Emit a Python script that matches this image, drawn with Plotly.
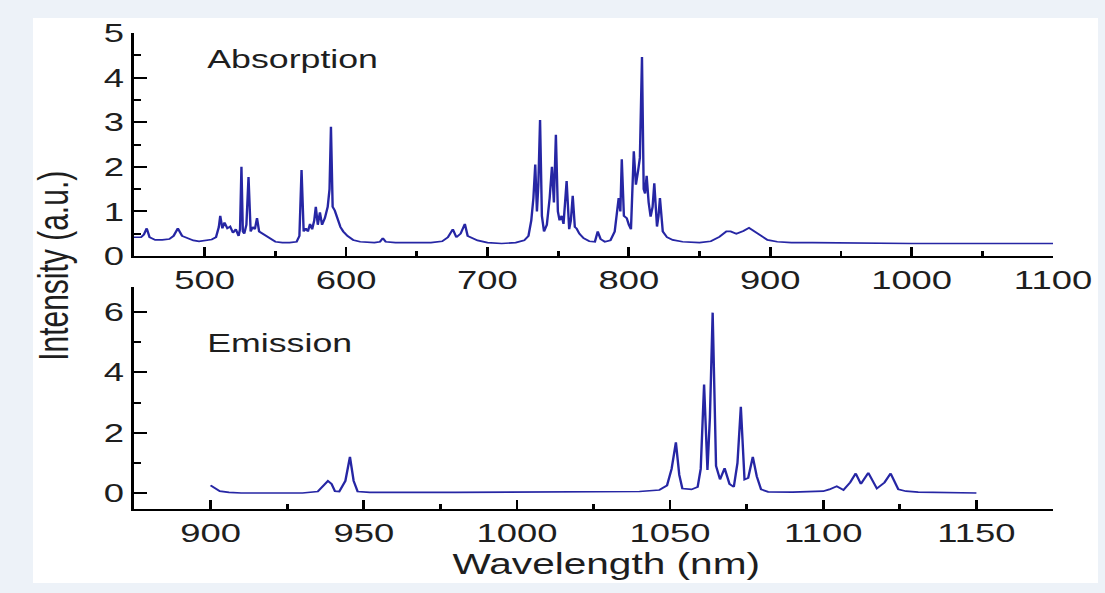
import plotly.graph_objects as go

# Absorption spectrum (top panel)
abs_wavelength = [
    450, 455, 457, 459, 461, 465, 470, 475, 478, 481, 484, 488, 492, 496,
    500, 505, 508, 510, 511, 512.5, 514, 516, 518, 520, 522, 524, 525, 526,
    527, 528, 529.5, 531, 532.5, 534, 535.5, 537, 538.5, 541, 545, 550, 555,
    560, 565, 567, 568.5, 570, 571.5, 573, 574.5, 576, 577.5, 578.6, 580,
    581.5, 583, 585, 587, 588.3, 589.3, 590.5, 592, 594, 596, 598, 601, 605,
    610, 620, 624, 626, 628, 635, 645, 660, 668, 672, 675.5, 678, 681, 684,
    686, 689, 693, 700, 710, 720, 726, 729, 731, 732.5, 733.8, 735, 736,
    737.2, 738.5, 740, 742, 744, 745.6, 747, 748.4, 749.8, 751, 752.5, 753.8,
    756, 757.8, 759, 760.3, 761.8, 763, 765, 768, 772, 776, 778, 780, 783,
    787, 790, 791.5, 792.8, 794, 795, 796.5, 798.5, 800, 801.5, 803.5, 805,
    806.5, 807.8, 809.3, 810.5, 811.5, 812.6, 814, 815.4, 816.8, 818, 819.9,
    821, 822, 824, 827, 831, 838, 850, 858, 864, 869, 872, 876, 881, 885,
    889, 893, 898, 905, 915, 930, 960, 1000, 1050, 1100,
]
abs_intensity = [
    0.42, 0.42, 0.48, 0.62, 0.42, 0.36, 0.36, 0.38, 0.45, 0.62, 0.45, 0.40, 0.35, 0.33,
    0.35, 0.37, 0.42, 0.65, 0.90, 0.62, 0.75, 0.62, 0.66, 0.52, 0.60, 0.45, 0.60, 2.00,
    0.55, 0.50, 0.70, 1.77, 0.55, 0.65, 0.60, 0.85, 0.55, 0.50, 0.40, 0.32, 0.30,
    0.30, 0.32, 0.45, 1.93, 0.55, 0.62, 0.55, 0.72, 0.60, 0.80, 1.10, 0.70,
    0.98, 0.70, 0.85, 1.10, 1.50, 2.90, 1.10, 1.02, 0.85, 0.65, 0.55, 0.45, 0.36,
    0.32, 0.30, 0.32, 0.40, 0.32, 0.30, 0.30, 0.30, 0.33, 0.42, 0.60, 0.42, 0.50, 0.72,
    0.45, 0.40, 0.35, 0.30, 0.28, 0.30, 0.35, 0.45, 0.80, 1.30, 2.05, 1.00, 1.60,
    3.05, 0.90, 0.55, 0.70, 1.30, 2.00, 1.20, 2.72, 1.00, 0.80, 0.90, 0.72,
    1.68, 0.60, 0.80, 1.35, 0.65, 0.62, 0.50, 0.40, 0.33, 0.32, 0.55, 0.38, 0.32,
    0.35, 0.55, 0.90, 1.30, 1.00, 2.17, 0.90, 0.85, 0.70, 0.60, 2.35, 1.60,
    1.90, 2.20, 4.46, 1.50, 1.40, 1.80, 1.20, 0.88, 1.10, 1.63, 0.66,
    0.90, 1.30, 0.55, 0.42, 0.36, 0.32, 0.30, 0.33, 0.43, 0.55, 0.55, 0.50, 0.56, 0.63,
    0.55, 0.45, 0.36, 0.32, 0.30, 0.30, 0.29, 0.28, 0.28, 0.28,
]

# Emission spectrum (bottom panel)
em_wavelength = [
    900, 901.5, 903, 906, 910, 920, 930, 935, 937, 938.3, 939.5, 940.6, 942,
    944, 945.5, 946.7, 948, 952, 980, 1020, 1040, 1046.5, 1049, 1050.5,
    1051.9, 1053, 1054, 1057, 1059, 1060, 1061.1, 1062.2, 1063, 1063.9, 1065,
    1066.3, 1067.8, 1069.4, 1070.8, 1072, 1073.1, 1074.3, 1075.5, 1077,
    1078.3, 1079.7, 1082, 1090, 1100, 1102, 1104.4, 1106.6, 1108.8, 1110.6,
    1112.3, 1114.7, 1117.5, 1120, 1122, 1124.5, 1127, 1131, 1140, 1150,
]
em_intensity = [
    0.25, 0.15, 0.06, 0.02, 0.00, 0.00, 0.00, 0.05, 0.25, 0.40, 0.30, 0.06, 0.05,
    0.40, 1.20, 0.40, 0.05, 0.02, 0.02, 0.03, 0.05, 0.10, 0.25, 0.80,
    1.68, 0.60, 0.15, 0.12, 0.20, 0.80, 3.60, 0.76, 2.50, 5.98, 0.90,
    0.45, 0.82, 0.30, 0.20, 1.00, 2.86, 0.45, 0.50, 1.20,
    0.55, 0.12, 0.04, 0.03, 0.06, 0.12, 0.22, 0.10, 0.35, 0.65,
    0.30, 0.67, 0.15, 0.35, 0.65, 0.12, 0.06, 0.03, 0.01, 0.00,
]

abs_ticks = [500, 600, 700, 800, 900, 1000, 1100]
em_ticks = [900, 950, 1000, 1050, 1100, 1150]

W_SCREEN, H = 1105, 593
STRETCH = 1.4005
W = 789

FONT = "Liberation Sans, Arial, Helvetica, sans-serif"
TXT = "#1e1e1e"
LINE = "#2626a4"
FRAME = "#edf2f8"

fig = go.Figure()
fig.add_trace(go.Scatter(x=abs_wavelength, y=abs_intensity, mode="lines",
                         line=dict(color=LINE, width=1.7), xaxis="x", yaxis="y",
                         showlegend=False, hoverinfo="skip"))
fig.add_trace(go.Scatter(x=em_wavelength, y=em_intensity, mode="lines",
                         line=dict(color=LINE, width=1.7), xaxis="x2", yaxis="y2",
                         showlegend=False, hoverinfo="skip"))


def px_x(p):
    return p / W_SCREEN


def px_y(p):
    return (H - p) / H


axis_common = dict(
    showgrid=False, zeroline=False, showline=True, linecolor="black", linewidth=2,
    ticks="inside", ticklen=9, tickwidth=2, tickcolor="black", automargin=False,
    tickfont=dict(family=FONT, size=26, color=TXT),
)

fig.update_layout(
    width=W, height=H, autosize=False,
    margin=dict(l=0, r=0, t=0, b=0, pad=0, autoexpand=False),
    paper_bgcolor=FRAME, plot_bgcolor="white",
    xaxis=dict(domain=[px_x(134), px_x(1053)], range=[450, 1100], anchor="y",
               tickvals=abs_ticks,
               minor=dict(dtick=50, tick0=450, ticks="inside", ticklen=5,
                          tickwidth=2, tickcolor="black", showgrid=False),
               **axis_common),
    yaxis=dict(domain=[px_y(256), px_y(33)], range=[0, 5], anchor="x",
               dtick=1, tick0=0,
               minor=dict(dtick=0.5, ticks="inside", ticklen=5,
                          tickwidth=2, tickcolor="black", showgrid=False),
               **axis_common),
    xaxis2=dict(domain=[px_x(134), px_x(1053)], range=[875, 1175], anchor="y2",
                tickvals=em_ticks,
                minor=dict(dtick=25, tick0=875, ticks="inside", ticklen=5,
                           tickwidth=2, tickcolor="black", showgrid=False),
                **axis_common),
    yaxis2=dict(domain=[px_y(509), px_y(287)], range=[-0.53, 6.83], anchor="x2",
                dtick=2, tick0=0,
                minor=dict(dtick=1, tick0=0, ticks="inside", ticklen=5,
                           tickwidth=2, tickcolor="black", showgrid=False),
                **axis_common),
    shapes=[dict(type="rect", xref="paper", yref="paper",
                 x0=px_x(33), x1=px_x(1098), y0=px_y(583), y1=px_y(18),
                 fillcolor="white", line=dict(width=0), layer="below")],
    annotations=[
        dict(text="Absorption", x=px_x(205), y=px_y(59), xref="paper", yref="paper",
             xanchor="left", yanchor="middle", showarrow=False,
             font=dict(family=FONT, size=25.5, color=TXT)),
        dict(text="Emission", x=px_x(205), y=px_y(343), xref="paper", yref="paper",
             xanchor="left", yanchor="middle", showarrow=False,
             font=dict(family=FONT, size=25.5, color=TXT)),
        dict(text="Intensity (a.u.)", x=px_x(53), y=px_y(266), xref="paper", yref="paper",
             xanchor="center", yanchor="middle", textangle=-90, showarrow=False,
             font=dict(family=FONT, size=30, color=TXT)),
        dict(text="Wavelength (nm)", x=px_x(607), y=px_y(564), xref="paper", yref="paper",
             xanchor="center", yanchor="middle", showarrow=False,
             font=dict(family=FONT, size=29, color=TXT)),
    ],
)

# Widen the rendered page horizontally so the figure fills the 1105 px window.
post = ("var gd=document.getElementById('{plot_id}');"
        "document.documentElement.style.margin='0';"
        "document.documentElement.style.overflow='hidden';"
        "document.documentElement.style.background='" + FRAME + "';"
        "document.body.style.margin='0';"
        "document.body.style.overflow='hidden';"
        "gd.style.position='absolute';gd.style.left='0';gd.style.top='0';"
        "gd.style.transformOrigin='0 0';"
        "gd.style.transform='scaleX(" + str(STRETCH) + ")';")

fig.write_html("out.html", config={"displayModeBar": False, "responsive": False},
               post_script=post)
